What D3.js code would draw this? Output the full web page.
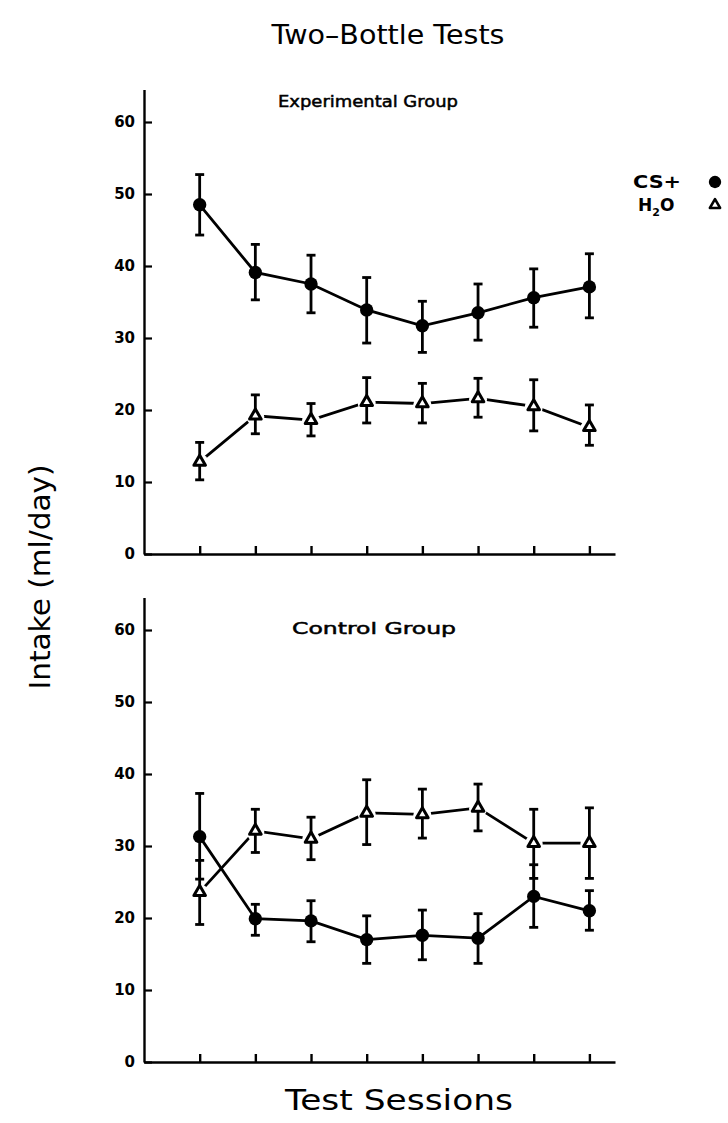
<!DOCTYPE html>
<html>
<head>
<meta charset="utf-8">
<script src="https://cdn.jsdelivr.net/npm/d3@7"></script>
<style>
  body { margin: 0; background: #fff; }
  text { font-family: "DejaVu Sans", sans-serif; fill: #000; }
</style>
</head>
<body>
<div id="chart"></div>
<script>
// test sessions (x) and y tick labels
let sessions = [1, 2, 3, 4, 5, 6, 7, 8]
let yTicks = [0, 10, 20, 30, 40, 50, 60]

// experimental group, ml/day, with error bar ends
let expCS = [48.5, 39.1, 37.5, 33.9, 31.7, 33.5, 35.6, 37.1]
let expCSlo = [44.3, 35.3, 33.5, 29.3, 28.0, 29.7, 31.5, 32.8]
let expCShi = [52.7, 43.0, 41.5, 38.4, 35.1, 37.5, 39.6, 41.7]
let expH2O = [12.8, 19.2, 18.6, 21.1, 20.9, 21.6, 20.5, 17.6]
let expH2Olo = [10.3, 16.7, 16.4, 18.2, 18.2, 19.0, 17.1, 15.1]
let expH2Ohi = [15.5, 22.1, 20.9, 24.5, 23.7, 24.4, 24.2, 20.7]

// control group
let ctlCS = [31.3, 19.9, 19.6, 17.0, 17.6, 17.2, 23.0, 21.0]
let ctlCSlo = [25.4, 17.6, 16.7, 13.7, 14.2, 13.7, 18.7, 18.3]
let ctlCShi = [37.3, 21.9, 22.4, 20.3, 21.1, 20.6, 27.4, 23.8]
let ctlH2O = [23.6, 32.1, 31.0, 34.6, 34.4, 35.3, 30.4, 30.4]
let ctlH2Olo = [19.1, 29.1, 28.1, 30.2, 31.1, 32.1, 25.5, 25.5]
let ctlH2Ohi = [28.0, 35.1, 34.0, 39.2, 37.9, 38.6, 35.1, 35.3]

let svg = d3.select('#chart').append('svg')
    .attr('width', 728)
    .attr('height', 1123)

let x = d3.scaleLinear()
    .domain([0, 8.46])
    .range([144, 615])

let circle = d3.symbol(d3.symbolCircle, 140)
let triangle = d3.symbol(d3.symbolTriangle, 58)

function panel(zeroY, label, labelX, labelY, labelLen, cs, csLo, csHi, h2o, h2oLo, h2oHi) {
    let y = d3.scaleLinear()
        .domain([0, 64.5])
        .range([zeroY, zeroY - 64.5 * 7.2])

    let g = svg.append('g')

    // y axis, ticks pointing inward
    g.append('g')
        .attr('transform', 'translate(144,0)')
        .call(d3.axisLeft(y).tickValues(yTicks).tickSizeInner(-8).tickSizeOuter(0).tickPadding(9))
        .call(a => a.select('.domain').attr('stroke-width', 2.4))
        .call(a => a.selectAll('.tick line').attr('stroke-width', 2.2))
        .call(a => a.selectAll('.tick text')
            .style('font-family', '"DejaVu Sans", sans-serif')
            .style('font-size', '15px')
            .style('font-weight', 'bold'))

    // x axis
    g.append('g')
        .attr('transform', 'translate(0,' + zeroY + ')')
        .call(d3.axisBottom(x).tickValues(sessions).tickFormat('').tickSizeInner(-8).tickSizeOuter(0))
        .call(a => a.select('.domain').attr('stroke-width', 2.4))
        .call(a => a.selectAll('.tick line').attr('stroke-width', 2.4))

    let line = d3.line()
        .x((d, i) => x(sessions[i]))
        .y(d => y(d))

    g.append('path').attr('d', line(cs))
        .attr('fill', 'none').attr('stroke', '#000').attr('stroke-width', 2.8)
    g.append('path').attr('d', line(h2o))
        .attr('fill', 'none').attr('stroke', '#000').attr('stroke-width', 2.8)

    // white gap round the triangles
    g.selectAll('.halo')
        .data(h2o)
        .enter()
        .append('circle')
        .attr('cx', (d, i) => x(sessions[i]))
        .attr('cy', d => y(d) + 1)
        .attr('r', 9)
        .attr('fill', '#fff')

    // error bars
    let bars = [[csLo, csHi], [h2oLo, h2oHi]]
    bars.forEach(function (b) {
        sessions.forEach(function (s, i) {
            let cx = x(s)
            g.append('line')
                .attr('x1', cx).attr('x2', cx)
                .attr('y1', y(b[0][i])).attr('y2', y(b[1][i]))
                .attr('stroke', '#000').attr('stroke-width', 2.8)
            ;[b[0][i], b[1][i]].forEach(function (v) {
                g.append('line')
                    .attr('x1', cx - 4.5).attr('x2', cx + 4.5)
                    .attr('y1', y(v)).attr('y2', y(v))
                    .attr('stroke', '#000').attr('stroke-width', 2.8)
            })
        })
    })

    g.selectAll('.cs')
        .data(cs)
        .enter()
        .append('path')
        .attr('d', circle)
        .attr('transform', (d, i) => 'translate(' + x(sessions[i]) + ',' + y(d) + ')')
        .attr('fill', '#000')

    g.selectAll('.h2o')
        .data(h2o)
        .enter()
        .append('path')
        .attr('d', triangle)
        .attr('transform', (d, i) => 'translate(' + x(sessions[i]) + ',' + y(d) + ')')
        .attr('fill', '#fff')
        .attr('stroke', '#000')
        .attr('stroke-width', 3)
        .attr('stroke-linejoin', 'round')

    g.append('text')
        .attr('x', labelX)
        .attr('y', labelY)
        .attr('text-anchor', 'middle')
        .attr('textLength', labelLen)
        .attr('lengthAdjust', 'spacingAndGlyphs')
        .style('font-size', '16px')
        .style('stroke', '#000')
        .style('stroke-width', 0.5)
        .text(label)
}

panel(554, 'Experimental Group', 368, 107, 180, expCS, expCSlo, expCShi, expH2O, expH2Olo, expH2Ohi)
panel(1062, 'Control Group', 374, 634, 164, ctlCS, ctlCSlo, ctlCShi, ctlH2O, ctlH2Olo, ctlH2Ohi)

// titles
svg.append('text')
    .attr('x', 388).attr('y', 44)
    .attr('text-anchor', 'middle')
    .attr('textLength', 233).attr('lengthAdjust', 'spacingAndGlyphs')
    .style('font-size', '26px')
    .text('Two–Bottle Tests')

svg.append('text')
    .attr('transform', 'translate(50,577) rotate(-90)')
    .attr('text-anchor', 'middle')
    .attr('textLength', 225).attr('lengthAdjust', 'spacingAndGlyphs')
    .style('font-size', '28px')
    .text('Intake (ml/day)')

svg.append('text')
    .attr('x', 399).attr('y', 1110)
    .attr('text-anchor', 'middle')
    .attr('textLength', 228).attr('lengthAdjust', 'spacingAndGlyphs')
    .style('font-size', '29px')
    .text('Test Sessions')

// legend
svg.append('text')
    .attr('x', 633).attr('y', 188)
    .attr('textLength', 48).attr('lengthAdjust', 'spacingAndGlyphs')
    .style('font-size', '17px').style('font-weight', 'bold')
    .text('CS+')
svg.append('path')
    .attr('d', d3.symbol(d3.symbolCircle, 120))
    .attr('transform', 'translate(715,182)')
    .attr('fill', '#000')

let h2oLabel = svg.append('text')
    .attr('x', 638).attr('y', 211)
    .style('font-size', '17px').style('font-weight', 'bold')
h2oLabel.append('tspan').text('H')
h2oLabel.append('tspan').attr('dy', 5).style('font-size', '11px').text('2')
h2oLabel.append('tspan').attr('dy', -5).text('O')
svg.append('path')
    .attr('d', d3.symbol(d3.symbolTriangle, 45))
    .attr('transform', 'translate(715,205)')
    .attr('fill', '#fff')
    .attr('stroke', '#000')
    .attr('stroke-width', 2.6)
    .attr('stroke-linejoin', 'round')
</script>
</body>
</html>
